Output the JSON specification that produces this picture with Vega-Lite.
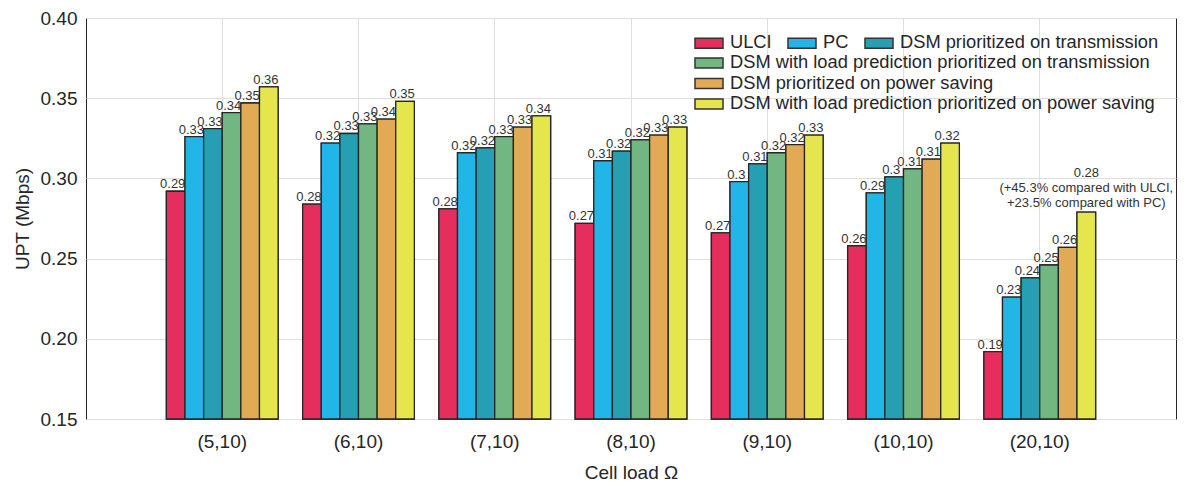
{
  "$schema": "https://vega.github.io/schema/vega-lite/v6.json",
  "width": 1090,
  "height": 401,
  "autosize": {"type": "none"},
  "padding": {"left": 86, "top": 18, "right": 8, "bottom": 68},
  "background": "white",
  "config": {
    "font": "Liberation Sans",
    "view": {"stroke": "#262626", "strokeWidth": 1},
    "axis": {
      "labelFont": "Liberation Sans",
      "titleFont": "Liberation Sans",
      "labelColor": "#262626",
      "titleColor": "#262626",
      "labelFontSize": 19,
      "titleFontSize": 19,
      "titleFontWeight": "normal",
      "domain": false,
      "ticks": false,
      "gridColor": "#dedede",
      "gridWidth": 1
    },
    "legend": {
      "labelFont": "Liberation Sans",
      "labelFontSize": 18.3,
      "labelColor": "#262626",
      "labelLimit": 600,
      "symbolType": "M-1.556,-0.556H1.556V0.556H-1.556Z",
      "symbolSize": 324,
      "symbolStrokeColor": "#333333",
      "symbolStrokeWidth": 1.5,
      "symbolOpacity": 1,
      "labelOffset": 11,
      "padding": 0,
      "rowPadding": 1.5,
      "columnPadding": 12,
      "title": null
    }
  },
  "data": {
    "values": [
      {"load": "(5,10)", "series": "ULCI", "upt": 0.292},
      {"load": "(5,10)", "series": "PC", "upt": 0.326},
      {"load": "(5,10)", "series": "DSM prioritized on transmission", "upt": 0.331},
      {"load": "(5,10)", "series": "DSM with load prediction prioritized on transmission", "upt": 0.341},
      {"load": "(5,10)", "series": "DSM prioritized on power saving", "upt": 0.347},
      {"load": "(5,10)", "series": "DSM with load prediction prioritized on power saving", "upt": 0.357},
      {"load": "(6,10)", "series": "ULCI", "upt": 0.284},
      {"load": "(6,10)", "series": "PC", "upt": 0.322},
      {"load": "(6,10)", "series": "DSM prioritized on transmission", "upt": 0.328},
      {"load": "(6,10)", "series": "DSM with load prediction prioritized on transmission", "upt": 0.334},
      {"load": "(6,10)", "series": "DSM prioritized on power saving", "upt": 0.337},
      {"load": "(6,10)", "series": "DSM with load prediction prioritized on power saving", "upt": 0.348},
      {"load": "(7,10)", "series": "ULCI", "upt": 0.281},
      {"load": "(7,10)", "series": "PC", "upt": 0.316},
      {"load": "(7,10)", "series": "DSM prioritized on transmission", "upt": 0.319},
      {"load": "(7,10)", "series": "DSM with load prediction prioritized on transmission", "upt": 0.326},
      {"load": "(7,10)", "series": "DSM prioritized on power saving", "upt": 0.332},
      {"load": "(7,10)", "series": "DSM with load prediction prioritized on power saving", "upt": 0.339},
      {"load": "(8,10)", "series": "ULCI", "upt": 0.272},
      {"load": "(8,10)", "series": "PC", "upt": 0.311},
      {"load": "(8,10)", "series": "DSM prioritized on transmission", "upt": 0.317},
      {"load": "(8,10)", "series": "DSM with load prediction prioritized on transmission", "upt": 0.324},
      {"load": "(8,10)", "series": "DSM prioritized on power saving", "upt": 0.327},
      {"load": "(8,10)", "series": "DSM with load prediction prioritized on power saving", "upt": 0.332},
      {"load": "(9,10)", "series": "ULCI", "upt": 0.266},
      {"load": "(9,10)", "series": "PC", "upt": 0.298},
      {"load": "(9,10)", "series": "DSM prioritized on transmission", "upt": 0.309},
      {"load": "(9,10)", "series": "DSM with load prediction prioritized on transmission", "upt": 0.316},
      {"load": "(9,10)", "series": "DSM prioritized on power saving", "upt": 0.321},
      {"load": "(9,10)", "series": "DSM with load prediction prioritized on power saving", "upt": 0.327},
      {"load": "(10,10)", "series": "ULCI", "upt": 0.258},
      {"load": "(10,10)", "series": "PC", "upt": 0.291},
      {"load": "(10,10)", "series": "DSM prioritized on transmission", "upt": 0.301},
      {"load": "(10,10)", "series": "DSM with load prediction prioritized on transmission", "upt": 0.306},
      {"load": "(10,10)", "series": "DSM prioritized on power saving", "upt": 0.312},
      {"load": "(10,10)", "series": "DSM with load prediction prioritized on power saving", "upt": 0.322},
      {"load": "(20,10)", "series": "ULCI", "upt": 0.192},
      {"load": "(20,10)", "series": "PC", "upt": 0.226},
      {"load": "(20,10)", "series": "DSM prioritized on transmission", "upt": 0.238},
      {"load": "(20,10)", "series": "DSM with load prediction prioritized on transmission", "upt": 0.246},
      {"load": "(20,10)", "series": "DSM prioritized on power saving", "upt": 0.257},
      {"load": "(20,10)", "series": "DSM with load prediction prioritized on power saving", "upt": 0.279, "note": "0.28\n(+45.3% compared with ULCI,\n+23.5% compared with PC)"}
    ]
  },
  "encoding": {
    "x": {
      "field": "load",
      "type": "nominal",
      "sort": null,
      "scale": {"paddingInner": 0.18, "paddingOuter": 0.59},
      "axis": {"labelAngle": 0, "title": "Cell load Ω", "bandPosition": 0.5, "labelPadding": 13, "titlePadding": 12, "grid": true}
    },
    "xOffset": {
      "field": "series",
      "type": "nominal",
      "sort": null,
      "scale": {
        "domain": ["ULCI", "PC", "DSM prioritized on transmission", "DSM with load prediction prioritized on transmission", "DSM prioritized on power saving", "DSM with load prediction prioritized on power saving"],
        "paddingInner": 0, "paddingOuter": 0
      }
    },
    "y": {
      "field": "upt",
      "type": "quantitative",
      "scale": {"domain": [0.15, 0.4], "zero": false, "nice": false, "clamp": true},
      "axis": {"title": "UPT (Mbps)", "values": [0.15, 0.2, 0.25, 0.3, 0.35, 0.4], "format": ".2f", "labelPadding": 9, "titlePadding": 8}
    }
  },
  "layer": [
    {
      "mark": {"type": "bar", "stroke": "#262626", "strokeWidth": 1.3},
      "encoding": {
        "y2": {"datum": 0.15},
        "color": {
          "field": "series",
          "type": "nominal",
          "scale": {
            "domain": ["ULCI", "PC", "DSM prioritized on transmission", "DSM with load prediction prioritized on transmission", "DSM prioritized on power saving", "DSM with load prediction prioritized on power saving"],
            "range": ["#e62e5e", "#22b5e8", "#279fb3", "#72b781", "#e3aa55", "#e5e64e"]
          },
          "legend": {
            "orient": "none",
            "legendX": 613,
            "legendY": 15,
            "direction": "horizontal",
            "values": ["ULCI", "PC", "DSM prioritized on transmission"]
          }
        }
      }
    },
    {
      "mark": {"type": "bar", "stroke": "#262626", "strokeWidth": 1.3},
      "encoding": {
        "y2": {"datum": 0.15},
        "color": {
          "field": "series",
          "type": "nominal",
          "scale": {
            "domain": ["ULCI", "PC", "DSM prioritized on transmission", "DSM with load prediction prioritized on transmission", "DSM prioritized on power saving", "DSM with load prediction prioritized on power saving"],
            "range": ["#e62e5e", "#22b5e8", "#279fb3", "#72b781", "#e3aa55", "#e5e64e"]
          },
          "legend": {
            "orient": "none",
            "legendX": 613,
            "legendY": 35,
            "direction": "vertical",
            "values": ["DSM with load prediction prioritized on transmission", "DSM prioritized on power saving", "DSM with load prediction prioritized on power saving"]
          }
        }
      }
    },
    {
      "transform": [{"filter": "!isValid(datum.note)"}],
      "mark": {"type": "text", "fontSize": 13, "color": "#333333", "baseline": "alphabetic", "dy": -3, "dx": -3},
      "encoding": {
        "text": {"field": "upt", "type": "quantitative", "format": ".2~f"}
      }
    },
    {
      "transform": [{"filter": "isValid(datum.note)"}],
      "mark": {"type": "text", "fontSize": 13, "color": "#333333", "baseline": "alphabetic", "dy": -35, "lineBreak": "\n", "lineHeight": 15},
      "encoding": {
        "text": {"field": "note", "type": "nominal"}
      }
    }
  ],
  "resolve": {"scale": {"color": "independent"}, "legend": {"color": "independent"}}
}
